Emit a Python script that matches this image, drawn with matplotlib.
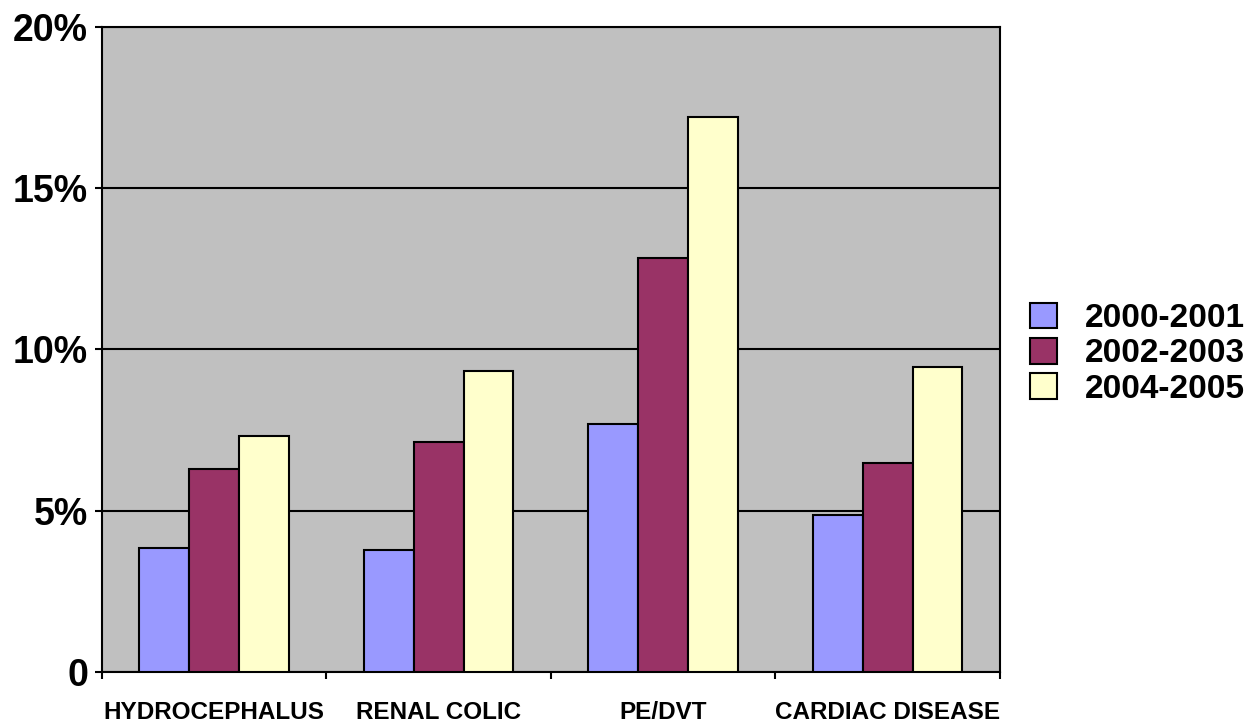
import numpy as np
from matplotlib import pyplot as plt

categories = ['HYDROCEPHALUS', 'RENAL COLIC', 'PE/DVT', 'CARDIAC DISEASE']
series_names = ['2000-2001', '2002-2003', '2004-2005']
vals_2000 = [3.84, 3.78, 7.69, 4.87]
vals_2002 = [6.29, 7.13, 12.84, 6.48]
vals_2004 = [7.32, 9.33, 17.21, 9.46]
colors = ['#9999FF', '#993366', '#FFFFCC']
ytick_vals = [0, 5, 10, 15, 20]
ytick_labels = ['0', '5%', '10%', '15%', '20%']

plt.rcParams['font.family'] = ['Liberation Sans', 'DejaVu Sans']
plt.rcParams['font.weight'] = 'bold'

fig = plt.figure(figsize=(12.47, 7.22), dpi=100)
ax = fig.add_axes([0.0818, 0.0693, 0.7201, 0.8933])
ax.set_facecolor('#C0C0C0')

x = np.arange(len(categories))
width = 0.222
handles = []
for i, (name, vals) in enumerate(zip(series_names, [vals_2000, vals_2002, vals_2004])):
    b = ax.bar(x + (i - 1) * width, vals, width, color=colors[i], edgecolor='black',
               linewidth=1.5, label=name, zorder=3)
    handles.append(b)

ax.set_xlim(-0.5, len(categories) - 0.5)
ax.set_ylim(0, 20)
ax.set_yticks(ytick_vals)
ax.set_yticklabels(ytick_labels, fontsize=27, fontweight='bold')
ax.yaxis.grid(True, color='black', linewidth=1.5, zorder=1)
ax.set_axisbelow(True)

# category labels sit under the groups, ticks mark the boundaries
ax.set_xticks(x)
ax.set_xticklabels(categories, fontsize=17.5, fontweight='bold')
ax.tick_params(axis='x', which='major', length=0, pad=21)
ax.set_xticks(np.arange(len(categories) + 1) - 0.5, minor=True)
ax.tick_params(axis='x', which='minor', length=5, width=1.5, direction='out')
ax.tick_params(axis='y', length=5, width=1.5, pad=5)

for s in ax.spines.values():
    s.set_color('black')
    s.set_linewidth(1.5)

fig.legend(handles=handles, labels=series_names, loc='center left',
           bbox_to_anchor=(0.826, 0.51), frameon=False, prop={'size': 24, 'weight': 'bold'},
           handlelength=0.81, handleheight=0.81, handletextpad=0.85, labelspacing=0.12,
           borderaxespad=0, borderpad=0)

plt.savefig('out.png', dpi=100)
plt.close()
